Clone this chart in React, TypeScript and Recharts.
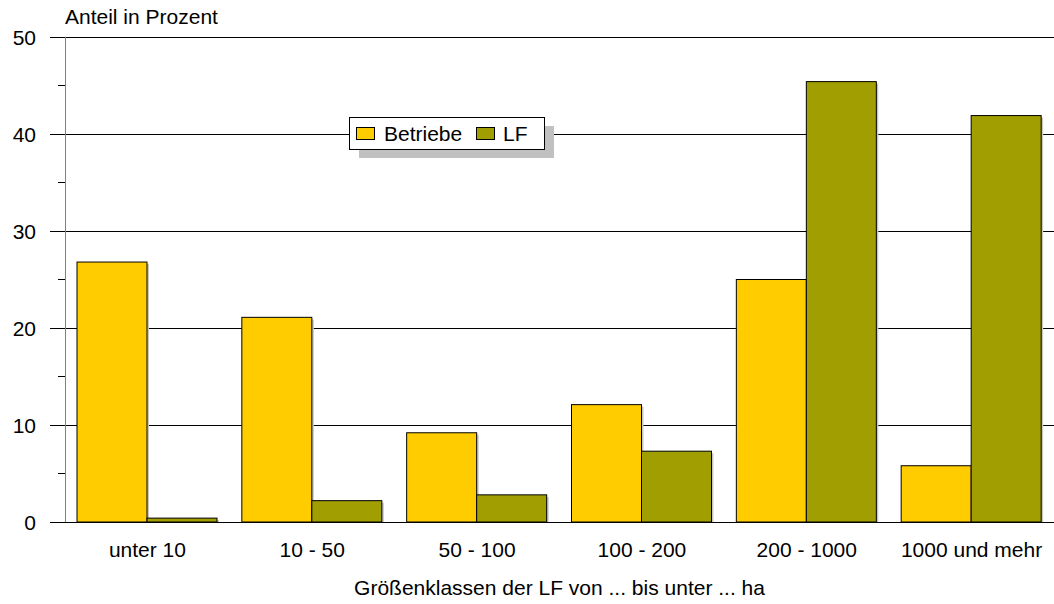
import React from 'react';
import { BarChart, Bar, XAxis, YAxis, CartesianGrid } from 'recharts';

const categories = ['unter 10', '10 - 50', '50 - 100', '100 - 200', '200 - 1000', '1000 und mehr'];
const betriebe = [26.8, 21.1, 9.2, 12.1, 25.0, 5.8];
const lf = [0.4, 2.2, 2.8, 7.3, 45.4, 41.9];
const yTicks = [0, 5, 10, 15, 20, 25, 30, 35, 40, 45, 50];
const gridValues = [0, 10, 20, 30, 40, 50];
const seriesNames = ['Betriebe', 'LF'];
const yTitle = 'Anteil in Prozent';
const xTitle = 'Größenklassen der LF von ... bis unter ... ha';

const data = categories.map((c, i) => ({ name: c, betriebe: betriebe[i], lf: lf[i] }));

const FONT = '"Liberation Sans", Arial, sans-serif';
const YELLOW = '#FFCC00';
const OLIVE = '#A09E00';

const ShadowBar = (props: any) => {
  const { x, y, width, height, fill } = props;
  if (height == null || width == null) return null;
  return (
    <g>
      <rect x={x + 2} y={y + 2} width={width} height={Math.max(height - 2, 0)} fill="#c8c8c8" />
      <rect x={x} y={y} width={width} height={height} fill={fill} stroke="#000" strokeWidth={1} />
    </g>
  );
};

const YTick = (props: any) => {
  const { x, y, payload } = props;
  const v = payload.value;
  const major = v % 10 === 0;
  return (
    <g>
      <line x1={major ? x - 15 : x - 7} x2={x} y1={y} y2={y} stroke="#000" strokeWidth={1} shapeRendering="crispEdges" />
      {major && (
        <text x={x - 29} y={y} dy="0.36em" textAnchor="end" fontSize={21} fontFamily={FONT} fill="#000">
          {v}
        </text>
      )}
    </g>
  );
};

const GridLine = (props: any) => {
  const { x1, x2, y1, y2 } = props;
  return <line x1={x1} x2={x2} y1={y1} y2={y2} stroke="#000" strokeWidth={1} shapeRendering="crispEdges" />;
};

export default function App() {
  return (
    <div style={{ position: 'absolute', left: 0, top: 0, width: 1054, height: 604, background: '#fff' }}>
      <BarChart
        width={1054}
        height={604}
        data={data}
        margin={{ top: 37, right: 0, bottom: 0, left: 0 }}
        barCategoryGap={12}
        barGap={0}
      >
        <CartesianGrid vertical={false} horizontalValues={gridValues} horizontal={GridLine} />
        <XAxis
          dataKey="name"
          height={82}
          axisLine={{ stroke: '#000', shapeRendering: 'crispEdges' }}
          tickLine={false}
          tickSize={0}
          tickMargin={20}
          tick={{ fontSize: 21, fontFamily: FONT, fill: '#000' }}
        />
        <YAxis
          width={65}
          domain={[0, 50]}
          ticks={yTicks}
          interval={0}
          axisLine={{ stroke: '#808080', shapeRendering: 'crispEdges' }}
          tickLine={false}
          tickSize={0}
          tickMargin={0}
          tick={<YTick />}
        />
        <Bar dataKey="betriebe" name={seriesNames[0]} fill={YELLOW} shape={<ShadowBar />} isAnimationActive={false} />
        <Bar dataKey="lf" name={seriesNames[1]} fill={OLIVE} shape={<ShadowBar />} isAnimationActive={false} />
      </BarChart>
      <svg
        width={1054}
        height={604}
        style={{ position: 'absolute', left: 0, top: 0, pointerEvents: 'none' }}
      >
        <text x={65} y={24} fontSize={21} fontFamily={FONT} fill="#000">{yTitle}</text>
        <text x={559.5} y={595} fontSize={21} fontFamily={FONT} fill="#000" textAnchor="middle">{xTitle}</text>
        <rect x={359} y={126} width={195} height={32} fill="#c0c0c0" />
        <rect x={349.5} y={117.5} width={195} height={32} fill="#fff" stroke="#000" strokeWidth={1} />
        <rect x={356.5} y={127.5} width={18} height={12} fill={YELLOW} stroke="#000" strokeWidth={1} />
        <text x={384} y={141} fontSize={21} fontFamily={FONT} fill="#000">{seriesNames[0]}</text>
        <rect x={476.5} y={127.5} width={18} height={12} fill={OLIVE} stroke="#000" strokeWidth={1} />
        <text x={503} y={141} fontSize={21} fontFamily={FONT} fill="#000">{seriesNames[1]}</text>
      </svg>
    </div>
  );
}
